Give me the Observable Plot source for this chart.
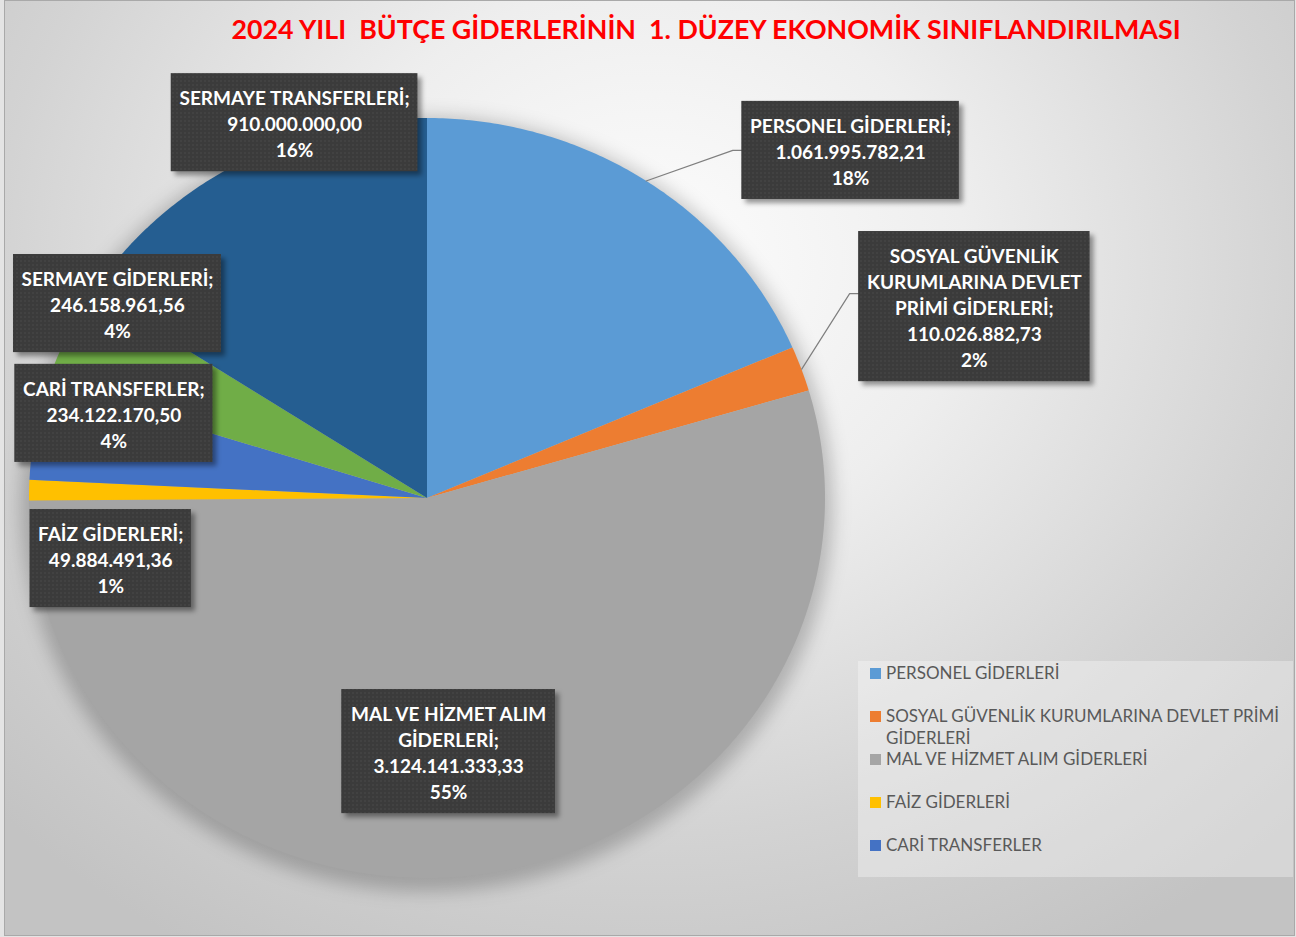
<!DOCTYPE html>
<html>
<head>
<meta charset="utf-8">
<script src="https://cdn.jsdelivr.net/npm/d3@7"></script>
<script src="https://cdn.jsdelivr.net/npm/@observablehq/plot@0.6"></script>
<style>
  body { margin: 0; background: #e4e4e4; }
  #wrap { position: relative; width: 1296px; height: 937px; overflow: hidden; font-family: Lato, "Open Sans", sans-serif; }
  #bg { position: absolute; left: 4px; top: 0; width: 1289px; height: 934px; border: 1px solid #a9a9a9;
        background: radial-gradient(ellipse 70% 85% at 50% 28%, #fdfdfd 0%, #eeeeee 35%, #d3d3d3 72%, #c3c3c3 100%); }
  #title { position: absolute; left: 116px; width: 1180px; top: 13px; text-align: center; color: #ff0000;
           font: bold 26.8px Lato, sans-serif; white-space: pre; }
  #chart { position: absolute; left: 0; top: 0; }
  #legend { position: absolute; left: 858px; top: 661px; width: 435px; height: 216px; background: rgba(255,255,255,0.32); }
  .item { position: relative; height: 43px; }
  .sw { position: absolute; left: 12px; top: 7px; width: 11px; height: 11px; }
  .lt { position: absolute; left: 28px; top: 1px; width: 405px; font: 17px Lato, sans-serif; line-height: 22px; color: #595959; }
</style>
</head>
<body>
<div id="wrap">
  <div id="bg"></div>
  <div id="title"></div>
  <div id="chart"></div>
  <div id="legend"></div>
</div>
<script>
// ---- data ----
const titleText = "2024 YILI  BÜTÇE GİDERLERİNİN  1. DÜZEY EKONOMİK SINIFLANDIRILMASI";
const categories = [
  "PERSONEL GİDERLERİ",
  "SOSYAL GÜVENLİK KURUMLARINA DEVLET PRİMİ GİDERLERİ",
  "MAL VE HİZMET ALIM GİDERLERİ",
  "FAİZ GİDERLERİ",
  "CARİ TRANSFERLER",
  "SERMAYE GİDERLERİ",
  "SERMAYE TRANSFERLERİ"
];
const values = [1061995782.21, 110026882.73, 3124141333.33, 49884491.36, 234122170.50, 246158961.56, 910000000.00];
const percentLabels = ["18%", "2%", "55%", "1%", "4%", "4%", "16%"]; // as printed on the chart
const labelNames = [
  "PERSONEL GİDERLERİ;",
  "SOSYAL GÜVENLİK\nKURUMLARINA DEVLET\nPRİMİ GİDERLERİ;",
  "MAL VE HİZMET ALIM\nGİDERLERİ;",
  "FAİZ GİDERLERİ;",
  "CARİ TRANSFERLER;",
  "SERMAYE GİDERLERİ;",
  "SERMAYE TRANSFERLERİ;"
];
const legendCount = 5; // the legend box only shows the first five entries

// ---- styles / layout ----
const colors = ["#5B9BD5", "#ED7D31", "#A5A5A5", "#FFC000", "#4472C4", "#70AD47", "#255E91"];
const labelPos = [[1.063, 0.916], [1.374, 0.505], [0.053, -0.666], [-0.796, -0.158], [-0.788, 0.224], [-0.779, 0.513], [-0.334, 0.989]];
const hasLeader = [true, true, false, false, false, false, false];
const W = 1296, H = 937;
const M = {left: 29, right: 471, top: 118, bottom: 59};
const kx = (W - M.left - M.right) / 2, ky = (H - M.top - M.bottom) / 2; // px per data unit
const fontPx = 19, font = `bold ${fontPx}px Lato`, lineH = 1.37, padX = 8, padY = 10;

// ---- derived ----
const fmt = d3.formatLocale({decimal: ",", thousands: ".", grouping: [3], currency: ["", ""]}).format(",.2f");
const arcs = d3.pie().sort(null).startAngle(0).endAngle(2 * Math.PI)(values);

const wedge = [];
arcs.forEach((a, k) => {
  const n = Math.max(2, Math.ceil((a.endAngle - a.startAngle) / 0.01));
  for (let j = 0; j <= n; j++) {
    const t = a.startAngle + (a.endAngle - a.startAngle) * j / n;
    wedge.push({k, x1: 0, y1: 0, x2: Math.sin(t), y2: Math.cos(t)});
  }
});
const full = d3.range(0, 361).map(d => ({x1: 0, y1: 0, x2: 1.02 * Math.sin(d * Math.PI / 180), y2: 1.02 * Math.cos(d * Math.PI / 180)}));

const ctx = document.createElement("canvas").getContext("2d");
ctx.font = font;
const labels = arcs.map((a, k) => {
  const txt = labelNames[k] + "\n" + fmt(values[k]) + "\n" + percentLabels[k];
  const lines = txt.split("\n");
  const w = d3.max(lines, l => ctx.measureText(l).width) + 2 * padX;
  const h = lines.length * fontPx * lineH + 2 * padY;
  const [u, v] = labelPos[k];
  return {k, txt, u, v, x1: u - w / 2 / kx, x2: u + w / 2 / kx, y1: v - h / 2 / ky, y2: v + h / 2 / ky,
          mid: (a.startAngle + a.endAngle) / 2};
});
const leaders = [];
labels.filter(d => hasLeader[d.k]).forEach(d => {
  const yEnd = d.v + (d.k === 1 ? 13 / ky : 0);
  leaders.push({k: d.k, x: Math.sin(d.mid), y: Math.cos(d.mid)});
  leaders.push({k: d.k, x: d.x1 - 9 / kx, y: yEnd});
  leaders.push({k: d.k, x: d.x1, y: yEnd});
});

const svg = Plot.plot({
  width: W, height: H,
  marginLeft: M.left, marginRight: M.right, marginTop: M.top, marginBottom: M.bottom,
  x: {domain: [-1, 1], axis: null},
  y: {domain: [-1, 1], axis: null},
  color: {type: "identity"},
  style: {background: "transparent", overflow: "visible"},
  marks: [
    Plot.area(full, {x1: "x1", y1: "y1", x2: "x2", y2: "y2", fill: "#000", fillOpacity: 0.22, dy: 6}),
    Plot.area(wedge, {x1: "x1", y1: "y1", x2: "x2", y2: "y2", z: "k", fill: d => colors[d.k]}),
    Plot.line(leaders, {x: "x", y: "y", z: "k", stroke: "#7f7f7f", strokeWidth: 1.2}),
    Plot.rect(labels, {x1: "x1", x2: "x2", y1: "y1", y2: "y2", fill: "#000", fillOpacity: 0.4, dx: 4, dy: 4}),
    Plot.rect(labels, {x1: "x1", x2: "x2", y1: "y1", y2: "y2", fill: "url(#dots)"}),
    Plot.text(labels, {x: "u", y: "v", text: "txt", fill: "white", fontWeight: "bold", fontSize: fontPx,
                       fontFamily: "Lato", lineHeight: lineH})
  ]
});
svg.insertAdjacentHTML("afterbegin",
  '<defs><pattern id="dots" width="4" height="4" patternUnits="userSpaceOnUse">' +
  '<rect width="4" height="4" fill="#3b3b3b"/><circle cx="1" cy="1" r="0.7" fill="#4f4f4f"/></pattern>' +
  '<filter id="blur" x="-20%" y="-20%" width="140%" height="140%"><feGaussianBlur stdDeviation="9"/></filter>' +
  '<filter id="sblur" x="-20%" y="-20%" width="140%" height="140%"><feGaussianBlur stdDeviation="2.5"/></filter></defs>');
const areas = svg.querySelectorAll('g[aria-label="area"]');
if (areas[0]) areas[0].setAttribute("filter", "url(#blur)");
const rects = svg.querySelectorAll('g[aria-label="rect"]');
if (rects[0]) rects[0].setAttribute("filter", "url(#sblur)");
document.getElementById("chart").appendChild(svg);

document.getElementById("title").textContent = titleText;
const legend = document.getElementById("legend");
categories.slice(0, legendCount).forEach((c, k) => {
  const row = document.createElement("div");
  row.className = "item";
  row.innerHTML = `<div class="sw" style="background:${colors[k]}"></div><div class="lt"></div>`;
  row.querySelector(".lt").textContent = c;
  legend.appendChild(row);
});
</script>
</body>
</html>
